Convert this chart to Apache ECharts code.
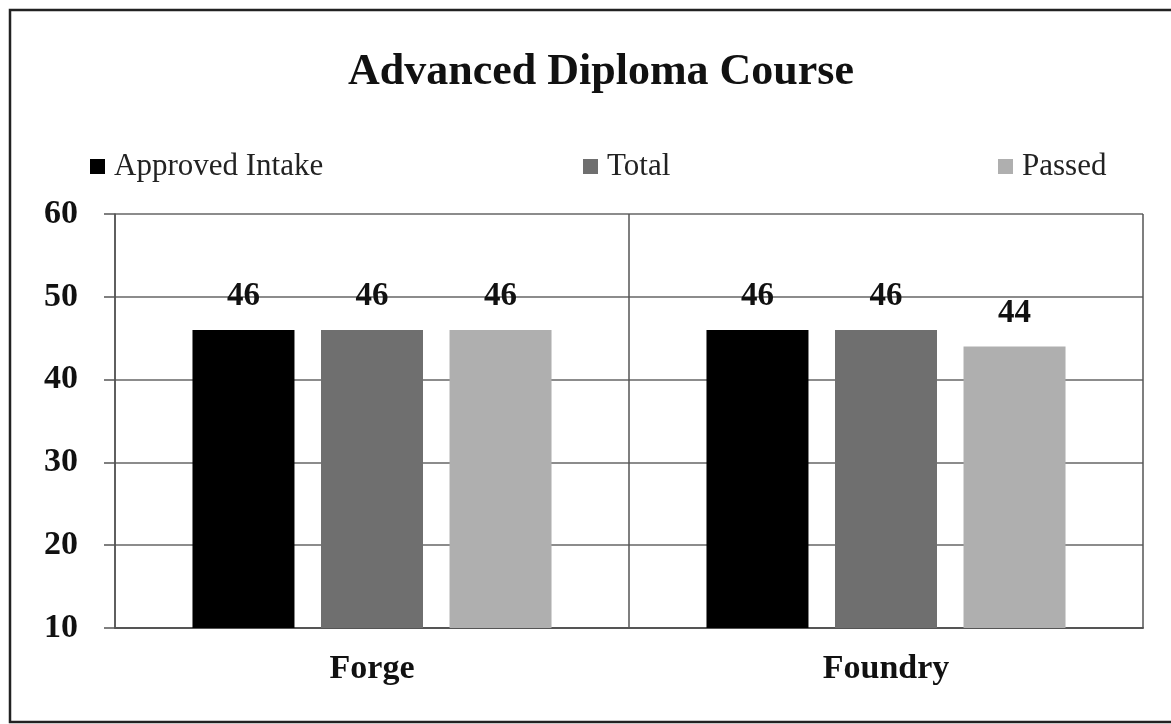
<!DOCTYPE html>
<html>
<head>
<meta charset="utf-8">
<script src="https://cdn.jsdelivr.net/npm/echarts@6/dist/echarts.min.js"></script>
<style>
  html, body { margin: 0; padding: 0; background: #fff; }
  #chart { width: 1171px; height: 724px; }
</style>
</head>
<body>
<div id="chart"></div>
<script>
// data
const categories = ['Forge', 'Foundry']
const seriesNames = ['Approved Intake', 'Total', 'Passed']
const approvedIntake = [46, 46]
const total = [46, 46]
const passed = [46, 44]
const yTicks = [10, 20, 30, 40, 50, 60]

const colors = ['#000000', '#6f6f6f', '#afafaf']
const serif = '"Liberation Serif", "DejaVu Serif", serif'

const chart = echarts.init(document.getElementById('chart'), null, { renderer: 'canvas' })

// one legend per item so each can sit where the original puts it
const legendLefts = [85, 578, 993]
const legends = seriesNames.map((name, i) => ({
  data: [name],
  left: legendLefts[i],
  top: 146,
  icon: 'rect',
  itemWidth: 15,
  itemHeight: 15,
  itemGap: 0,
  textStyle: { fontFamily: serif, fontSize: 31, color: '#222', padding: [0, 0, 0, 4] }
}))

const label = {
  show: true,
  position: 'top',
  distance: 17,
  fontFamily: serif,
  fontWeight: 'bold',
  fontSize: 33,
  color: '#111'
}

chart.setOption({
  animation: false,
  backgroundColor: '#fff',
  title: {
    text: 'Advanced Diploma Course',
    left: 343,
    top: 46,
    textStyle: { fontFamily: serif, fontWeight: 'bold', fontSize: 44, color: '#111' }
  },
  legend: legends,
  grid: { left: 115, right: 28, top: 214, bottom: 96 },
  xAxis: {
    type: 'category',
    data: categories,
    axisLine: { lineStyle: { color: '#555', width: 2 } },
    axisTick: { show: false },
    splitLine: { show: true, lineStyle: { color: '#555', width: 1.5 } },
    axisLabel: { fontFamily: serif, fontWeight: 'bold', fontSize: 34, color: '#111', margin: 24 }
  },
  yAxis: {
    type: 'value',
    min: yTicks[0],
    max: yTicks[yTicks.length - 1],
    interval: 10,
    axisLine: { show: true, lineStyle: { color: '#555', width: 1.5 } },
    axisTick: { show: true, length: 11, lineStyle: { color: '#555', width: 1.5 } },
    splitLine: { lineStyle: { color: '#666', width: 1.5 } },
    axisLabel: { fontFamily: serif, fontWeight: 'bold', fontSize: 34, color: '#111', margin: 37 }
  },
  series: [
    { name: seriesNames[0], type: 'bar', data: approvedIntake, barWidth: 102, barGap: '26%', itemStyle: { color: colors[0] }, label },
    { name: seriesNames[1], type: 'bar', data: total, barWidth: 102, barGap: '26%', itemStyle: { color: colors[1] }, label },
    { name: seriesNames[2], type: 'bar', data: passed, barWidth: 102, barGap: '26%', itemStyle: { color: colors[2] }, label }
  ],
  graphic: [{
    type: 'rect',
    shape: { x: 10, y: 10, width: 1170, height: 712 },
    style: { fill: 'none', stroke: '#222', lineWidth: 2.5 },
    silent: true
  }]
})
</script>
</body>
</html>
